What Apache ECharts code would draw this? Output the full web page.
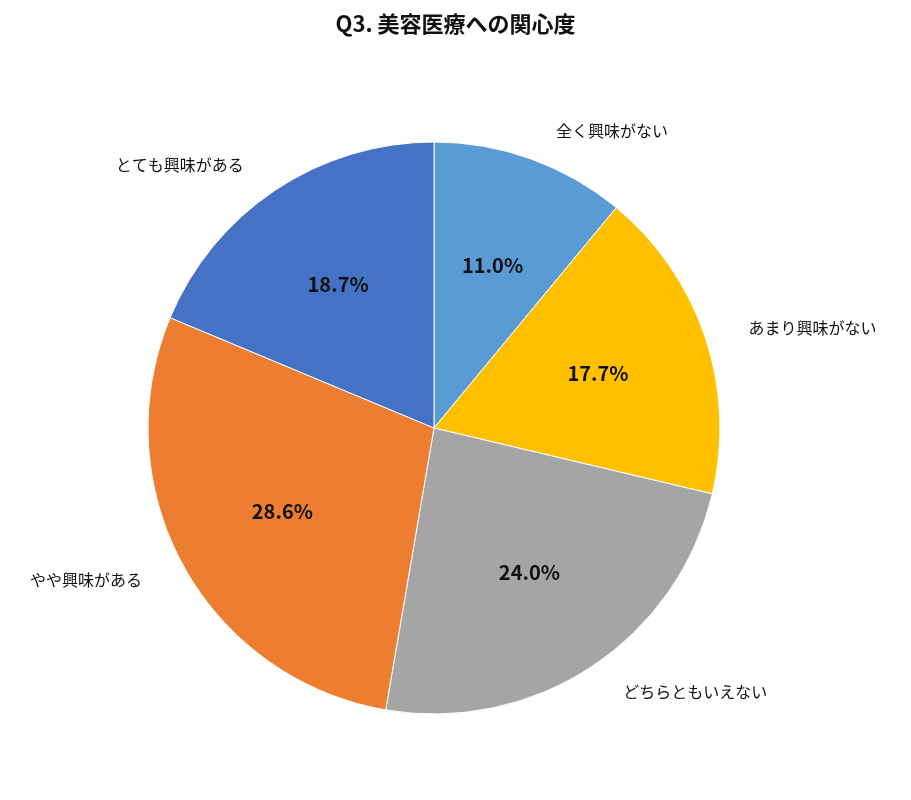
<!DOCTYPE html>
<html lang="ja">
<head>
<meta charset="UTF-8">
<script src="https://cdn.jsdelivr.net/npm/echarts@6/dist/echarts.min.js"></script>
<style>
  html, body { margin: 0; padding: 0; background: #fff; }
  #chart { width: 911px; height: 800px; }
</style>
</head>
<body>
<div id="chart"></div>
<script>
  var categories = ['全く興味がない', 'あまり興味がない', 'どちらともいえない', 'やや興味がある', 'とても興味がある'];
  var values = [11.0, 17.7, 24.0, 28.6, 18.7];
  var colors = ['#5B9BD5', '#FFC000', '#A5A5A5', '#ED7D31', '#4472C4'];

  var font = '"Noto Sans CJK JP", sans-serif';
  var data = categories.map(function (c, i) {
    return { name: c, value: values[i], itemStyle: { color: colors[i] } };
  });
  var ghost = categories.map(function (c, i) {
    return { name: c, value: values[i] };
  });
  var center = [434, 428];

  var chart = echarts.init(document.getElementById('chart'));
  chart.setOption({
    backgroundColor: '#fff',
    title: {
      text: 'Q3. 美容医療への関心度',
      left: 'center', top: 8,
      textStyle: { fontFamily: font, fontSize: 22, fontWeight: 'bold', color: '#111' }
    },
    series: [
      {
        type: 'pie', center: center, radius: 286, startAngle: 90, clockwise: true,
        data: data, label: { show: false }, labelLine: { show: false },
        itemStyle: { borderColor: '#fff', borderWidth: 1 }, silent: true
      },
      {
        // percent labels at ~0.6 of the radius
        type: 'pie', center: center, radius: [0, 340], startAngle: 90, clockwise: true,
        data: ghost, silent: true,
        itemStyle: { color: 'transparent' },
        label: {
          position: 'inside',
          formatter: function (p) { return p.value.toFixed(1) + '%'; },
          fontFamily: font, fontSize: 20, fontWeight: 'bold', color: '#111'
        },
        labelLine: { show: false }
      },
      {
        // category names outside
        type: 'pie', center: center, radius: 286, startAngle: 90, clockwise: true,
        data: ghost, silent: true,
        itemStyle: { color: 'transparent' },
        label: {
          position: 'outside', formatter: '{b}',
          fontFamily: font, fontSize: 16, color: '#111'
        },
        labelLine: { show: false, length: 30, length2: 10 }
      }
    ]
  });
</script>
</body>
</html>
